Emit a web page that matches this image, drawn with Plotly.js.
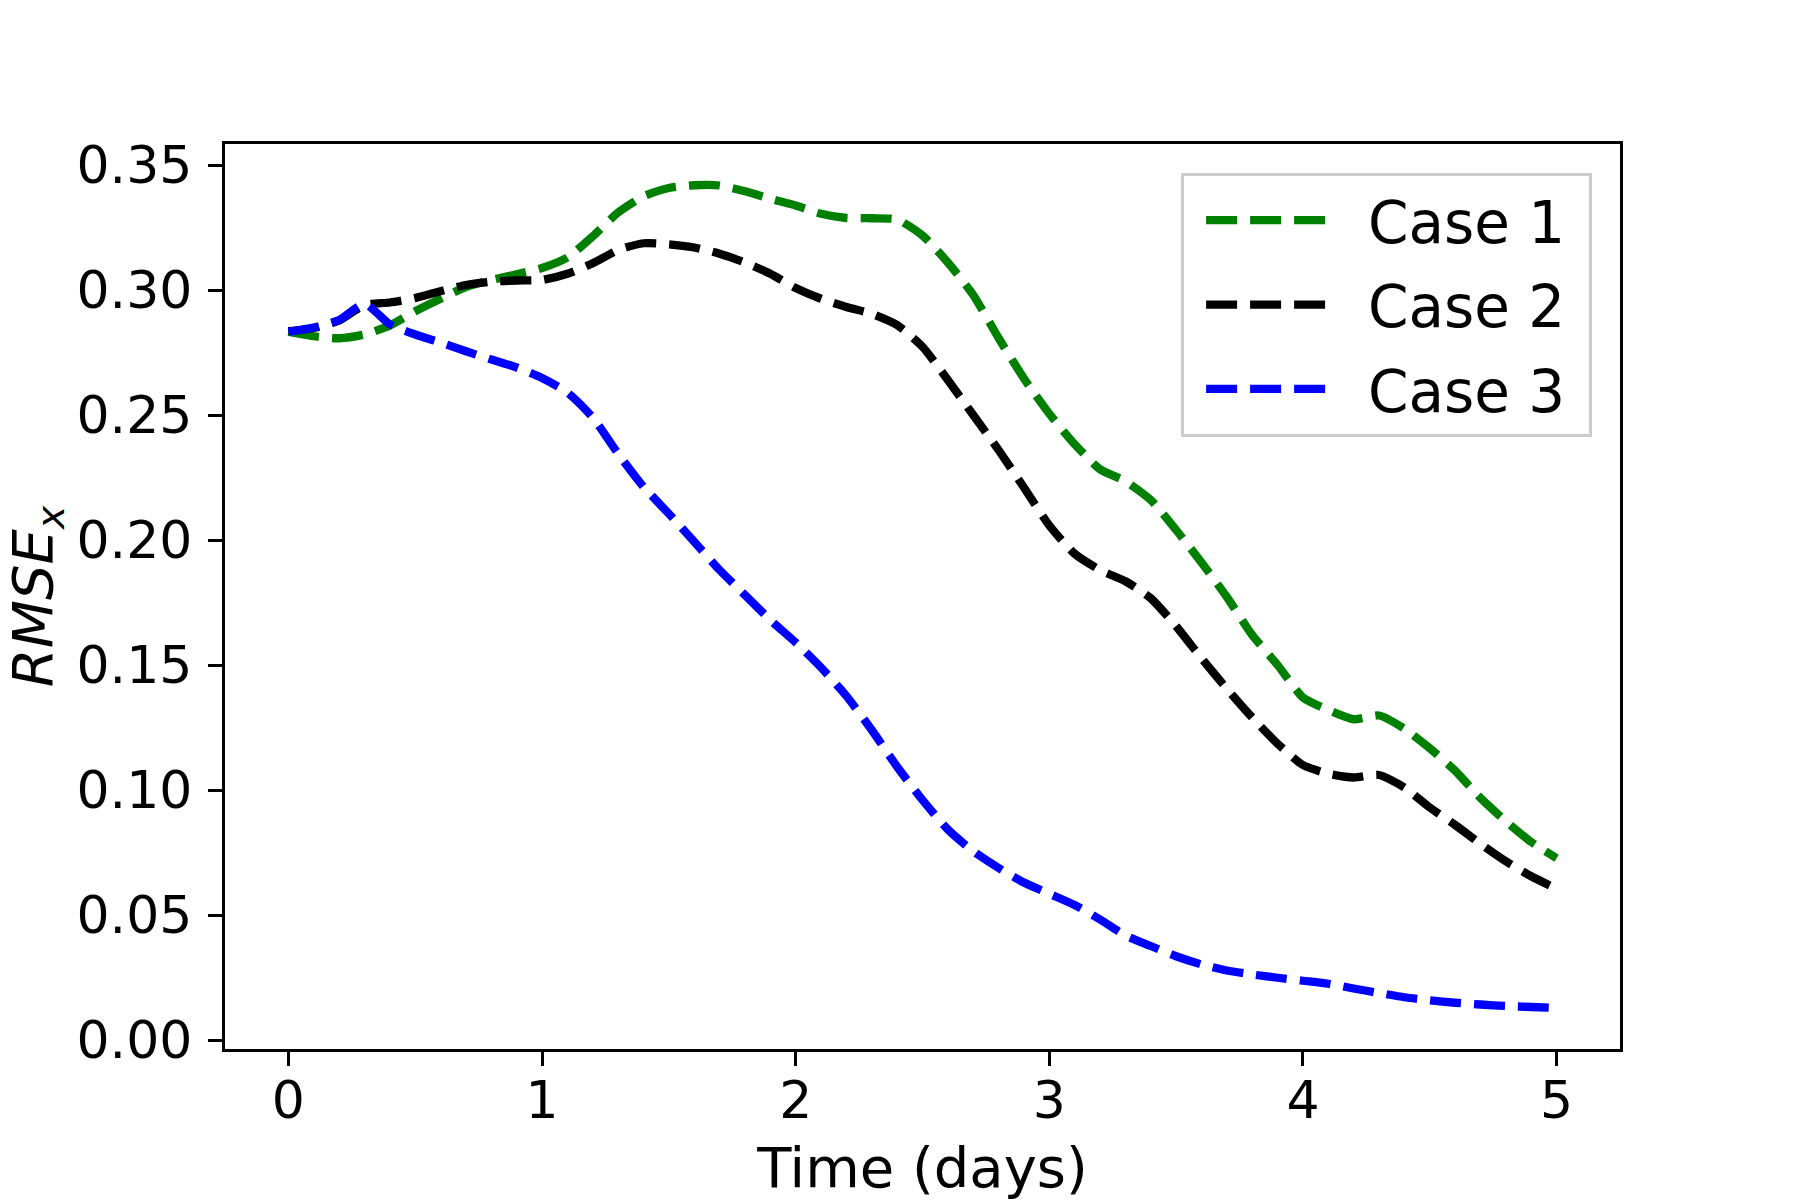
<!DOCTYPE html>
<html>
<head>
<meta charset="utf-8">
<script src="https://cdn.plot.ly/plotly-3.0.1.min.js"></script>
<style>
  body { margin: 0; background: #fff; }
  #chart { width: 1800px; height: 1200px; }
</style>
</head>
<body>
<div id="chart"></div>
<script>
// time in days, one reading every 0.1 day
var timeDays = [0.0, 0.1, 0.2, 0.3, 0.4, 0.5, 0.6, 0.7, 0.8, 0.9,
	1.0, 1.1, 1.2, 1.3, 1.4, 1.5, 1.6, 1.7, 1.8, 1.9,
	2.0, 2.1, 2.2, 2.3, 2.4, 2.5, 2.6, 2.7, 2.8, 2.9,
	3.0, 3.1, 3.2, 3.3, 3.4, 3.5, 3.6, 3.7, 3.8, 3.9,
	4.0, 4.1, 4.2, 4.3, 4.4, 4.5, 4.6, 4.7, 4.8, 4.9, 5.0];

var case1 = [0.2833, 0.2815, 0.2807, 0.2822, 0.2858, 0.2915, 0.2965, 0.3012, 0.3040, 0.3063,
	0.3088, 0.3130, 0.3215, 0.3310, 0.3375, 0.3408, 0.3419, 0.3418, 0.3395, 0.3365,
	0.3338, 0.3305, 0.3288, 0.3287, 0.3282, 0.3218, 0.3110, 0.2980, 0.2808, 0.2646,
	0.2505, 0.2383, 0.2283, 0.2235, 0.2160, 0.2040, 0.1910, 0.1772, 0.1620, 0.1500,
	0.1370, 0.1320, 0.1283, 0.1298, 0.1245, 0.1167, 0.1077, 0.0968, 0.0875, 0.0792, 0.0727];

var case2 = [0.2835, 0.2848, 0.2878, 0.2940, 0.2950, 0.2968, 0.2995, 0.3020, 0.3033, 0.3038,
	0.3040, 0.3065, 0.3107, 0.3160, 0.3187, 0.3183, 0.3170, 0.3145, 0.3110, 0.3065,
	0.3008, 0.2965, 0.2932, 0.2905, 0.2860, 0.2773, 0.2640, 0.2500, 0.2360, 0.2210,
	0.2058, 0.1945, 0.1880, 0.1835, 0.1767, 0.1655, 0.1527, 0.1405, 0.1290, 0.1185,
	0.1100, 0.1065, 0.1050, 0.1060, 0.1010, 0.0930, 0.0860, 0.0785, 0.0715, 0.0655, 0.0605];

var case3 = [0.2833, 0.2850, 0.2880, 0.2945, 0.2862, 0.2822, 0.2790, 0.2755, 0.2722, 0.2690,
	0.2648, 0.2590, 0.2490, 0.2345, 0.2213, 0.2105, 0.1993, 0.1880, 0.1780, 0.1680,
	0.1590, 0.1490, 0.1376, 0.1240, 0.1093, 0.0960, 0.0842, 0.0755, 0.0688, 0.0630,
	0.0585, 0.0540, 0.0482, 0.0418, 0.0376, 0.0335, 0.0302, 0.0278, 0.0262, 0.0249,
	0.0237, 0.0225, 0.0206, 0.0188, 0.0171, 0.0159, 0.0149, 0.0142, 0.0136, 0.0132, 0.0128];

var seriesNames = ["Case 1", "Case 2", "Case 3"];
var seriesColors = ["#008000", "#000000", "#0000ff"];
var xTicks = [0, 1, 2, 3, 4, 5];
var yTicks = [0.00, 0.05, 0.10, 0.15, 0.20, 0.25, 0.30, 0.35];

var font = "DejaVu Sans, Liberation Sans, sans-serif";

var traces = [case1, case2, case3].map(function(values, i){
	return {
		x: timeDays,
		y: values,
		// no-break spaces pad the legend label like the matplotlib legend
		name: "\u00a0\u00a0" + seriesNames[i] + "\u00a0",
		legendgroup: "g" + i,
		type: "scatter",
		mode: "lines",
		line: {color: seriesColors[i], width: 8.3, dash: "31px,13px", shape: "spline", smoothing: 0.6}
	};
});

var axisStyle = {
	showline: true,
	mirror: true,
	linecolor: "#000",
	linewidth: 3.3,
	showgrid: false,
	zeroline: false,
	ticks: "outside",
	ticklen: 14,
	tickwidth: 3,
	tickcolor: "#000",
	tickfont: {family: font, size: 52, color: "#000"}
};

var layout = {
	width: 1800,
	height: 1200,
	paper_bgcolor: "#fff",
	plot_bgcolor: "#fff",
	margin: {l: 225, r: 180, t: 144, b: 151},
	showlegend: true,
	font: {family: font, color: "#000"},
	xaxis: Object.assign({}, axisStyle, {
		range: [-0.25, 5.25],
		tickvals: xTicks,
		ticktext: xTicks.map(String),
		ticklabelstandoff: -11,
		title: {text: "Time (days)", font: {family: font, size: 56, color: "#000"}, standoff: 33},
		automargin: false
	}),
	yaxis: Object.assign({}, axisStyle, {
		range: [-0.0036, 0.3584],
		tickvals: yTicks,
		ticktext: yTicks.map(function(v){ return v.toFixed(2); }),
		ticklabelstandoff: 5,
		title: {text: "<i>RMSE</i><sub><i>x</i></sub>", font: {family: font, size: 56, color: "#000"}, standoff: 38},
		automargin: false
	}),
	legend: {
		x: 0.980,
		y: 0.968,
		xanchor: "right",
		yanchor: "top",
		bgcolor: "#fff",
		bordercolor: "#cccccc",
		borderwidth: 3,
		itemwidth: 120,
		indentation: 17,
		traceorder: "grouped",
		tracegroupgap: 6,
		font: {family: font, size: 58, color: "#000"}
	}
};

Plotly.newPlot("chart", traces, layout, {staticPlot: true});
</script>
</body>
</html>
